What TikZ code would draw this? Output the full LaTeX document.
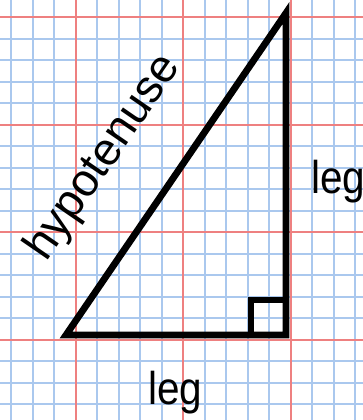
\documentclass[tikz,border=0pt]{standalone}
\usepackage{fontspec}
\setmainfont{Liberation Sans}
\definecolor{gridblue}{RGB}{170,200,238}
\definecolor{gridred}{RGB}{238,128,128}
\begin{document}
\begin{tikzpicture}[x=1pt,y=-1pt,
  bluegrid/.style={draw=gridblue,line width=2.2pt},
  redgrid/.style={draw=gridred,line width=2.2pt},
  tri/.style={draw=black,line width=6.8pt,line join=miter},
  lbl/.style={font=\fontsize{46}{46}\selectfont,inner sep=0pt}]
\useasboundingbox (0,0) rectangle (363,420);
\begin{scope}
\clip (0,0) rectangle (363,420);
\fill[white] (0,0) rectangle (363,420);
\foreach \k in {0,...,16} {
  \draw[bluegrid] ({11.2+21.5*\k},0) -- ({11.2+21.5*\k},420);
}
\foreach \k in {0,...,18} {
  \draw[bluegrid] (0,{17.3+21.5*\k}) -- (363,{17.3+21.5*\k});
}
\foreach \k in {3,8,13} {
  \draw[redgrid] ({11.2+21.5*\k},0) -- ({11.2+21.5*\k},420);
}
\foreach \k in {0,5,10,15} {
  \draw[redgrid] (0,{17.3+21.5*\k}) -- (363,{17.3+21.5*\k});
}
\coordinate (A) at (66,335);
\coordinate (B) at (286,335);
\coordinate (C) at (286,13);
\draw[tri] (A) -- (B) -- (C) -- cycle;
\draw[tri,line width=6.5pt] (251,335) -- (251,300) -- (286,300);
\node[lbl,anchor=base west] (legr) at (311,193) {\scalebox{0.88}[1]{leg}};
\node[lbl,anchor=base west] (legb) at (148,404) {\scalebox{0.88}[1]{leg}};
\node[lbl,rotate=55.5] (hyp) at (104,158) {hypotenuse};
\end{scope}
\end{tikzpicture}
\end{document}
